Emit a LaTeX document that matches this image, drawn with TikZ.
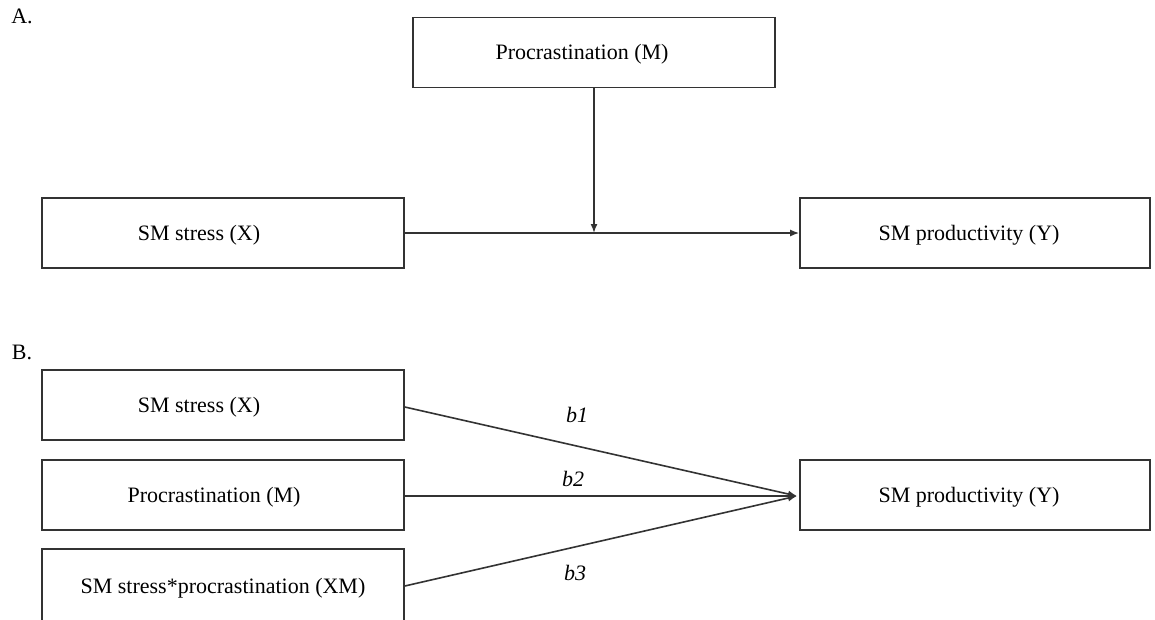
\documentclass[tikz,border=0pt]{standalone}
\usepackage{fontspec}
\setmainfont{Liberation Serif}
\usetikzlibrary{arrows.meta}
\begin{document}
\begin{tikzpicture}[x=1pt,y=-1pt,
  box/.style={draw=black!80,line width=1.6pt,rectangle,minimum width=362pt,minimum height=70pt,inner sep=0pt},
  rbox/.style={box,minimum width=350pt},
  lbl/.style={font=\fontsize{22}{26}\selectfont},
  coef/.style={font=\fontsize{22}{26}\selectfont\itshape},
  conn/.style={draw=black!80,line width=1.6pt,-{Latex[length=9pt,width=7pt]}},
  every label/.style={lbl,yshift=-2pt}]
\clip (0,0) rectangle (1155,619);
\fill[white] (0,0) rectangle (1155,619);
% Panel A
\node[lbl] (la) at (22,16) {A.};
\node[box,label={[xshift=-12pt]center:Procrastination (M)}] (mA) at (594,52.5) {};
\node[box,label={[xshift=-24pt]center:SM stress (X)}] (xA) at (223,233) {};
\node[rbox,label={[xshift=-6pt]center:SM productivity (Y)}] (yA) at (975,233) {};
\draw[conn] (xA.east) -- (yA.west);
\coordinate (jA) at (mA.south |- xA.east);
\draw[conn] (mA.south) -- (jA);
% Panel B
\node[lbl] (lb) at (22,352) {B.};
\node[box,label={[xshift=-24pt]center:SM stress (X)}] (xB) at (223,405) {};
\node[box,label={[xshift=-9pt]center:Procrastination (M)}] (mB) at (223,495) {};
\node[box,minimum height=76pt,label={[yshift=1pt]center:SM stress*procrastination (XM)}] (xmB) at (223,587) {};
\node[rbox,label={[xshift=-6pt]center:SM productivity (Y)}] (yB) at (975,495) {};
\coordinate (jB) at (797,496);
\draw[conn] (xB.east) ++(0,2) coordinate (s1) (s1) -- (jB);
\draw[conn] (mB.east) ++(0,1) coordinate (s2) (s2) -- (jB);
\draw[conn] (xmB.east) ++(0,-1) coordinate (s3) (s3) -- (jB);
\node[coef] (b1) at (577,415) {b1};
\node[coef] (b2) at (573,479) {b2};
\node[coef] (b3) at (575,573) {b3};
\end{tikzpicture}
\end{document}
